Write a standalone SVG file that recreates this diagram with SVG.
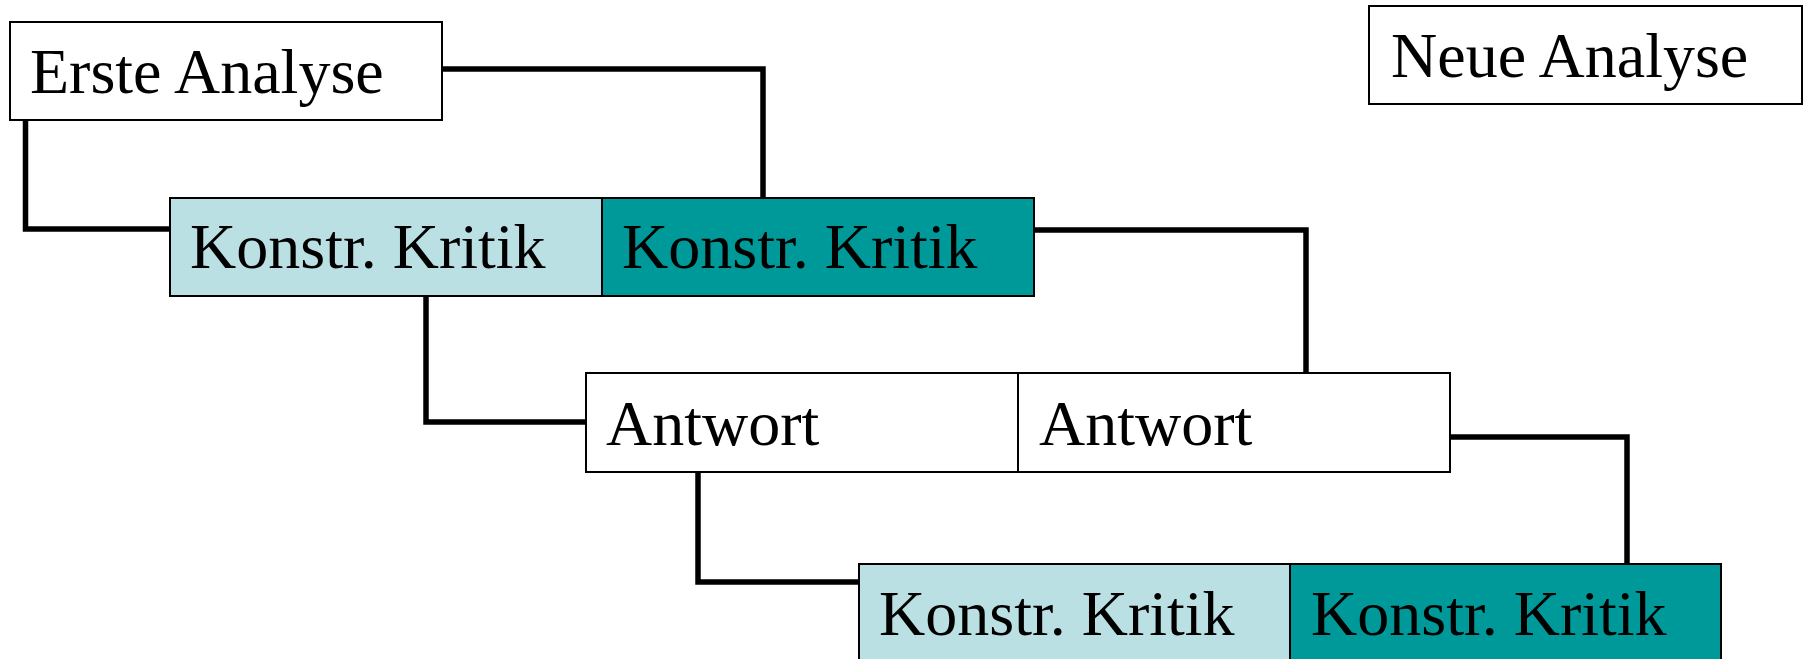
<svg xmlns="http://www.w3.org/2000/svg" width="1806" height="659" viewBox="0 0 1806 659">
  <style>
    .box { stroke: #000; stroke-width: 2; }
    .plain { fill: #fff; }
    .light { fill: #BBE0E3; }
    .dark { fill: #009999; }
    .label { font-family: "Liberation Serif", "Times New Roman", serif; font-size: 64px; fill: #000; }
    .conn { fill: none; stroke: #000; stroke-width: 5.5; stroke-linejoin: miter; stroke-linecap: butt; }
  </style>
  <rect width="1806" height="659" fill="#fff"/>

  <!-- connectors -->
  <g id="connectors">
    <path class="conn" d="M25.5,120 V229 H170"/>
    <path class="conn" d="M442,69 H763 V198"/>
    <path class="conn" d="M426,296 V422 H586"/>
    <path class="conn" d="M1034,230 H1306 V373"/>
    <path class="conn" d="M698,472 V582 H859"/>
    <path class="conn" d="M1450,437 H1627 V564"/>
  </g>

  <g id="erste-analyse">
    <rect class="box plain" x="10" y="22" width="432" height="98"/>
    <text class="label" x="30" y="93">Erste Analyse</text>
  </g>

  <g id="neue-analyse">
    <rect class="box plain" x="1369" y="6" width="433" height="98"/>
    <text class="label" x="1391" y="77">Neue Analyse</text>
  </g>

  <g id="kritik-1a">
    <rect class="box light" x="170" y="198" width="432" height="98"/>
    <text class="label" x="190" y="268">Konstr. Kritik</text>
  </g>
  <g id="kritik-1b">
    <rect class="box dark" x="602" y="198" width="432" height="98"/>
    <text class="label" x="622" y="268">Konstr. Kritik</text>
  </g>

  <g id="antwort-a">
    <rect class="box plain" x="586" y="373" width="432" height="99"/>
    <text class="label" x="606" y="445">Antwort</text>
  </g>
  <g id="antwort-b">
    <rect class="box plain" x="1018" y="373" width="432" height="99"/>
    <text class="label" x="1039" y="445">Antwort</text>
  </g>

  <g id="kritik-2a">
    <rect class="box light" x="859" y="564" width="431" height="99"/>
    <text class="label" x="879" y="635">Konstr. Kritik</text>
  </g>
  <g id="kritik-2b">
    <rect class="box dark" x="1290" y="564" width="431" height="99"/>
    <text class="label" x="1311" y="635">Konstr. Kritik</text>
  </g>
</svg>
